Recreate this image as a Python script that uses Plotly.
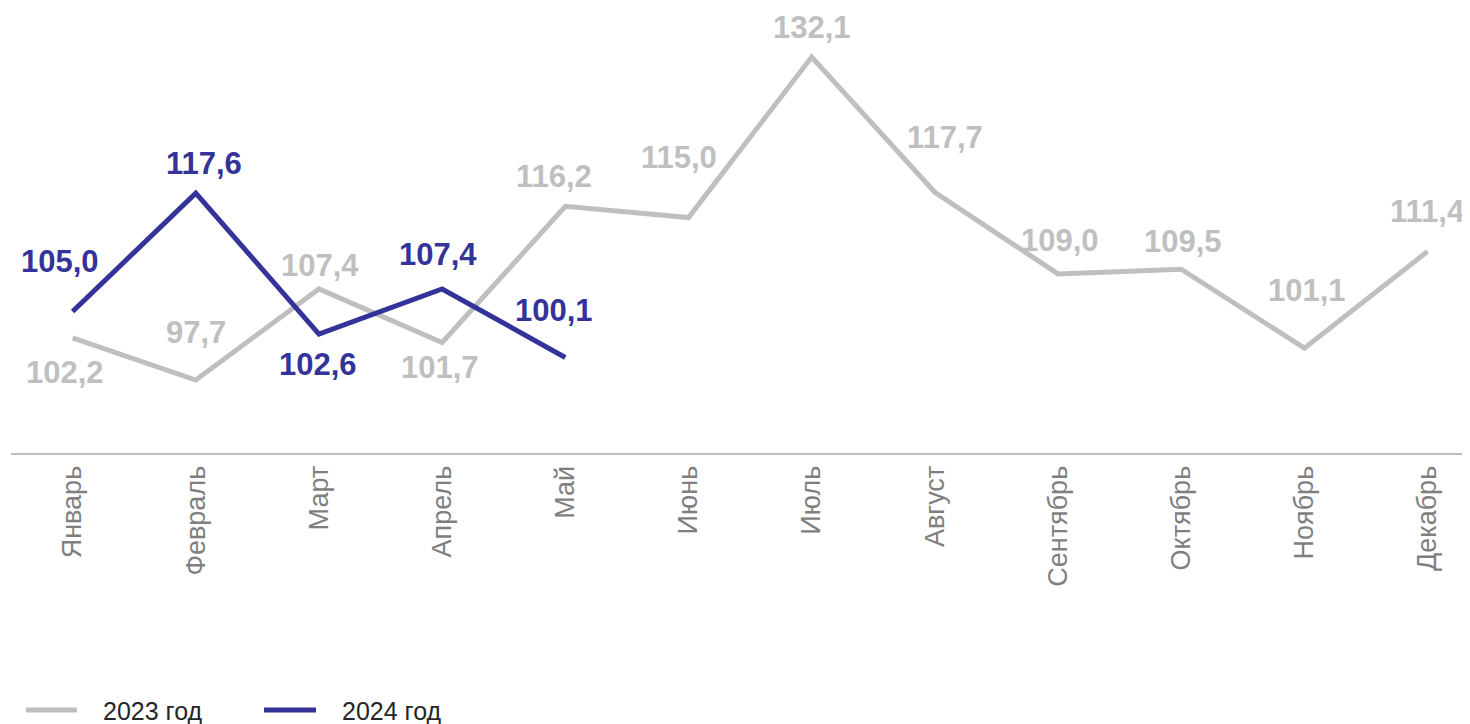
import plotly.graph_objects as go

months = ["Январь", "Февраль", "Март", "Апрель", "Май", "Июнь", "Июль",
          "Август", "Сентябрь", "Октябрь", "Ноябрь", "Декабрь"]
values_2023 = [102.2, 97.7, 107.4, 101.7, 116.2, 115.0, 132.1, 117.7, 109.0, 109.5, 101.1, 111.4]
values_2024 = [105.0, 117.6, 102.6, 107.4, 100.1]
series_names = ["2023 год", "2024 год"]

# label placement (pixel offsets from the point)
dy_2023 = [-35, 48, 23, -25, 30, 60, 30, 55, 33, 28, 58, 40]
dx_2023 = [-8, 0, 1, -2, -11, -9, 0, 10, 2, 2, 3, 0]
dy_2024 = [50, 30, -30, 34, 47]
dx_2024 = [-13, 8, -1, -4, -11]

GRAY = "#BFBFBF"
BLUE = "#333399"
TICK = "#7F7F7F"

# page geometry (browser body has an 8px margin)
OFF = 8
PAGE_W, PAGE_H = 1470, 724
PLOT_LEFT = 11      # page px
PLOT_BOTTOM = 453   # page px (axis line)
FIG_W, FIG_H = PAGE_W - OFF, PAGE_H - OFF
ML = PLOT_LEFT - OFF
PW = FIG_W - ML
PH = PLOT_BOTTOM - OFF
STEP = 123.18       # px per category
PXU = 9.39          # px per unit

fig = go.Figure()
fig.add_trace(go.Scatter(x=list(range(12)), y=values_2023, mode="lines", name=series_names[0],
                         line=dict(color=GRAY, width=5), showlegend=False, hoverinfo="skip"))
fig.add_trace(go.Scatter(x=list(range(len(values_2024))), y=values_2024, mode="lines", name=series_names[1],
                         line=dict(color=BLUE, width=5), showlegend=False, hoverinfo="skip"))

def fmt(v):
    return f"{v:.1f}".replace(".", ",")

FONT = "Liberation Sans, Arial, sans-serif"
annotations = []
for vals, dxs, dys, col in [(values_2023, dx_2023, dy_2023, GRAY), (values_2024, dx_2024, dy_2024, BLUE)]:
    for i, v in enumerate(vals):
        annotations.append(dict(x=i, y=v, xref="x", yref="y", text=fmt(v), showarrow=False,
                                xshift=dxs[i], yshift=dys[i],
                                font=dict(family=FONT, size=31, color=col, weight="bold")))

def px_x(p):
    return (p - PLOT_LEFT) / PW
def px_y(p):
    return (PLOT_BOTTOM - p) / PH

shapes = []
legend_items = [(26, 77, 101, GRAY, series_names[0]), (264, 316, 340, BLUE, series_names[1])]
for x0, x1, xt, col, name in legend_items:
    shapes.append(dict(type="line", xref="paper", yref="paper", x0=px_x(x0), x1=px_x(x1),
                       y0=px_y(710), y1=px_y(710), line=dict(color=col, width=5)))
    annotations.append(dict(xref="paper", yref="paper", x=px_x(xt), y=px_y(711), text=name,
                            showarrow=False, xanchor="left", yanchor="middle",
                            font=dict(family=FONT, size=25, color="#262626")))

fig.update_layout(
    width=FIG_W, height=FIG_H,
    margin=dict(l=ML, r=0, t=0, b=FIG_H - PH, pad=0),
    plot_bgcolor="white", paper_bgcolor="white",
    showlegend=False,
    annotations=annotations,
    shapes=shapes,
    xaxis=dict(
        range=[-0.5, -0.5 + PW / STEP],
        tickmode="array", tickvals=list(range(12)), ticktext=months,
        tickangle=-90, showgrid=False, zeroline=False,
        showline=True, linecolor=GRAY, linewidth=2,
        ticks="", ticklabelstandoff=0,
        tickfont=dict(family=FONT, size=27, color=TICK),
    ),
    yaxis=dict(range=[89.93, 89.93 + PH / PXU], showgrid=False, zeroline=False,
               showticklabels=False, showline=False),
)

fig.write_html("out.html")
